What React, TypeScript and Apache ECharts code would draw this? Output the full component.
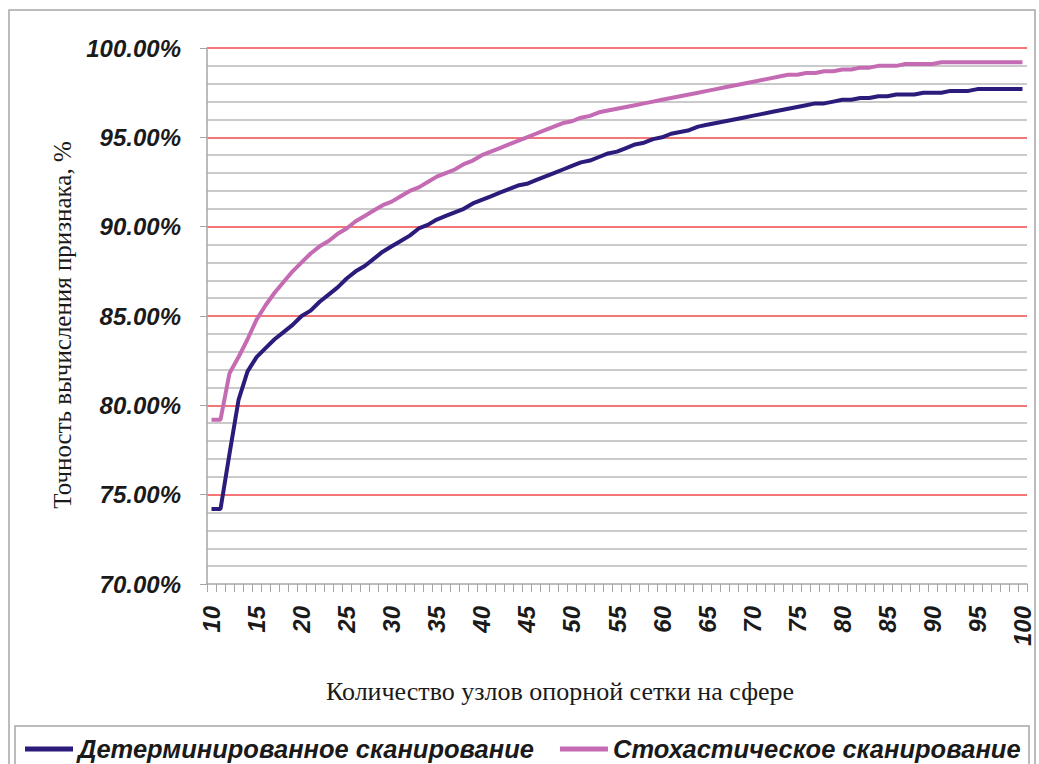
import React, { useEffect, useRef } from "react";
import * as echarts from "echarts";

const categories: string[] = [];
for (let k = 10; k <= 100; k++) categories.push(String(k));

const deterministic = [
  74.2, 74.2, 77.3, 80.3, 81.9, 82.7, 83.2, 83.7, 84.1, 84.5,
  85.0, 85.3, 85.8, 86.2, 86.6, 87.1, 87.5, 87.8, 88.2, 88.6,
  88.9, 89.2, 89.5, 89.9, 90.1, 90.4, 90.6, 90.8, 91.0, 91.3,
  91.5, 91.7, 91.9, 92.1, 92.3, 92.4, 92.6, 92.8, 93.0, 93.2,
  93.4, 93.6, 93.7, 93.9, 94.1, 94.2, 94.4, 94.6, 94.7, 94.9,
  95.0, 95.2, 95.3, 95.4, 95.6, 95.7, 95.8, 95.9, 96.0, 96.1,
  96.2, 96.3, 96.4, 96.5, 96.6, 96.7, 96.8, 96.9, 96.9, 97.0,
  97.1, 97.1, 97.2, 97.2, 97.3, 97.3, 97.4, 97.4, 97.4, 97.5,
  97.5, 97.5, 97.6, 97.6, 97.6, 97.7, 97.7, 97.7, 97.7, 97.7,
  97.7,
];

const stochastic = [
  79.2, 79.2, 81.8, 82.7, 83.7, 84.8, 85.6, 86.3, 86.9, 87.5,
  88.0, 88.5, 88.9, 89.2, 89.6, 89.9, 90.3, 90.6, 90.9, 91.2,
  91.4, 91.7, 92.0, 92.2, 92.5, 92.8, 93.0, 93.2, 93.5, 93.7,
  94.0, 94.2, 94.4, 94.6, 94.8, 95.0, 95.2, 95.4, 95.6, 95.8,
  95.9, 96.1, 96.2, 96.4, 96.5, 96.6, 96.7, 96.8, 96.9, 97.0,
  97.1, 97.2, 97.3, 97.4, 97.5, 97.6, 97.7, 97.8, 97.9, 98.0,
  98.1, 98.2, 98.3, 98.4, 98.5, 98.5, 98.6, 98.6, 98.7, 98.7,
  98.8, 98.8, 98.9, 98.9, 99.0, 99.0, 99.0, 99.1, 99.1, 99.1,
  99.1, 99.2, 99.2, 99.2, 99.2, 99.2, 99.2, 99.2, 99.2, 99.2,
  99.2,
];

const seriesNames = ["Детерминированное сканирование", "Стохастическое сканирование"];
const xAxisTitle = "Количество узлов опорной сетки на сфере";
const yAxisTitle = "Точность вычисления признака, %";

const sansBoldItalic = {
  fontFamily: "'Liberation Sans', Arial, sans-serif",
  fontWeight: "bold" as const,
  fontStyle: "italic" as const,
  color: "#1a1a1a",
};
const serifFont = "'Liberation Serif', 'Times New Roman', serif";

export default function App() {
  const ref = useRef<HTMLDivElement>(null);
  useEffect(() => {
    if (!ref.current) return;
    const chart = echarts.init(ref.current, undefined, { renderer: "svg" });
    chart.setOption({
      animation: false,
      backgroundColor: "#ffffff",
      graphic: [
        {
          type: "rect",
          shape: { x: 9, y: 10, width: 1026, height: 770 },
          style: { fill: "none", stroke: "#a6a6a6", lineWidth: 1.5 },
          silent: true,
        },
        {
          type: "rect",
          shape: { x: 15, y: 726, width: 1014, height: 60 },
          style: { fill: "#ffffff", stroke: "#a6a6a6", lineWidth: 1.5 },
          silent: true,
          z: -1,
        },
        {
          type: "text",
          x: 560,
          y: 691,
          style: {
            text: xAxisTitle,
            fontFamily: serifFont,
            fontSize: 26,
            fill: "#1a1a1a",
            align: "center",
            verticalAlign: "middle",
          },
          silent: true,
        },
        {
          type: "text",
          x: 62,
          y: 325,
          rotation: Math.PI / 2,
          style: {
            text: yAxisTitle,
            fontFamily: serifFont,
            fontSize: 25,
            fill: "#1a1a1a",
            align: "center",
            verticalAlign: "middle",
          },
          silent: true,
        },
      ],
      legend: {
        data: seriesNames,
        left: 25,
        top: 736,
        padding: 0,
        itemWidth: 48,
        itemHeight: 5,
        itemGap: 26,
        icon: "rect",
        textStyle: { ...sansBoldItalic, fontSize: 25.5, lineHeight: 26 },
      },
      grid: { left: 207, top: 48, right: 12, bottom: 180, containLabel: false },
      xAxis: {
        type: "category",
        data: categories,
        boundaryGap: true,
        axisLine: { lineStyle: { color: "#a6a6a6", width: 1.5 } },
        axisTick: { show: true, interval: 0, length: 8, lineStyle: { color: "#a6a6a6" } },
        axisLabel: { ...sansBoldItalic, fontSize: 24, rotate: 90, interval: 4, margin: 22 },
        splitLine: { show: false },
      },
      yAxis: {
        type: "value",
        min: 70,
        max: 100,
        interval: 5,
        axisLine: { show: true, lineStyle: { color: "#a6a6a6", width: 1.5 } },
        axisTick: { show: true, length: 7, lineStyle: { color: "#a6a6a6" } },
        axisLabel: {
          ...sansBoldItalic,
          fontSize: 24,
          margin: 26,
          formatter: (v: number) => v.toFixed(2) + "%",
        },
        splitLine: { show: true, showMinLine: false, lineStyle: { color: "#f04a4a", width: 1.5 } },
        minorTick: { show: false, splitNumber: 5 },
        minorSplitLine: { show: true, lineStyle: { color: "#b8b8b8", width: 1.5 } },
      },
      series: [
        {
          name: seriesNames[0],
          type: "line",
          data: deterministic,
          symbol: "none",
          lineStyle: { color: "#2d1b7c", width: 4 },
          itemStyle: { color: "#2d1b7c" },
          z: 3,
        },
        {
          name: seriesNames[1],
          type: "line",
          data: stochastic,
          symbol: "none",
          lineStyle: { color: "#c46bb3", width: 4 },
          itemStyle: { color: "#c46bb3" },
          z: 2,
        },
      ],
    });
    return () => chart.dispose();
  }, []);
  return (
    <div
      ref={ref}
      style={{ position: "fixed", left: 0, top: 0, width: 1039, height: 764 }}
    />
  );
}
